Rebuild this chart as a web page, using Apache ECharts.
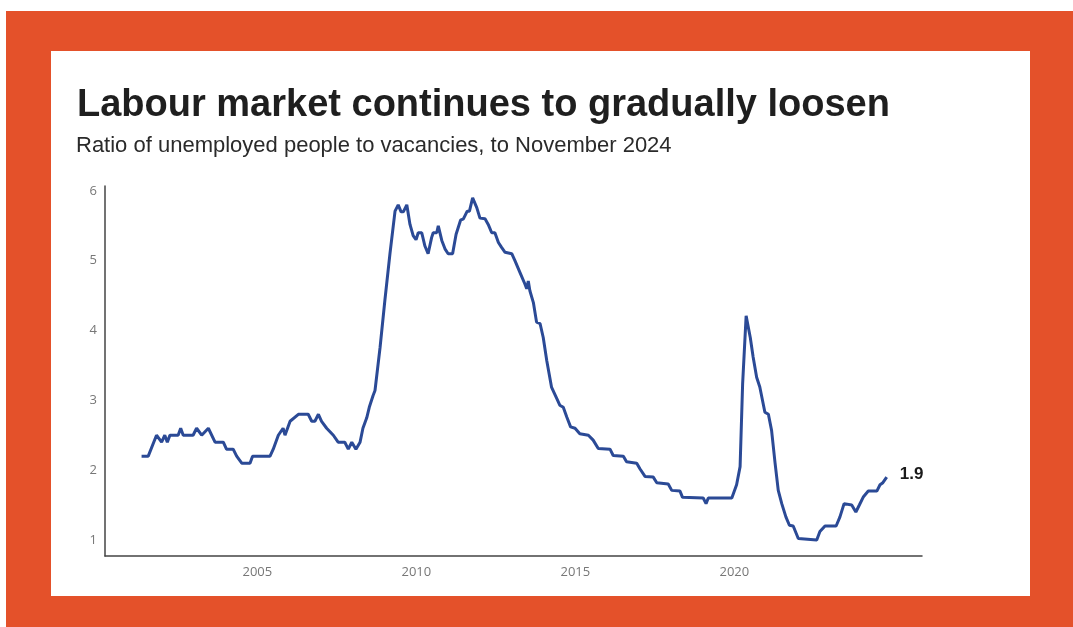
<!DOCTYPE html>
<html>
<head>
<meta charset="utf-8">
<script src="https://cdn.jsdelivr.net/npm/echarts@6/dist/echarts.min.js"></script>
<style>
  html, body { margin: 0; padding: 0; background: #ffffff; width: 1073px; height: 627px; overflow: hidden; }
  #frame { position: absolute; left: 6px; top: 11px; width: 1067px; height: 616px; background: #E4512A; }
  #panel { position: absolute; left: 51px; top: 51px; width: 979px; height: 545px; background: #ffffff; }
  #chart { position: absolute; left: 0; top: 0; width: 1073px; height: 627px; }
</style>
</head>
<body>
<div id="frame"></div>
<div id="panel"></div>
<div id="chart"></div>
<script>
// Dates (decimal years) and ratio of unemployed people to vacancies
const dates = [
  2001.36, 2001.57, 2001.83, 2001.99, 2002.09, 2002.17, 2002.25, 2002.51, 2002.59, 2002.67,
  2002.98, 2003.09, 2003.25, 2003.46, 2003.67, 2003.93, 2004.03, 2004.24, 2004.35, 2004.51,
  2004.77, 2004.85, 2005.40, 2005.50, 2005.66, 2005.81, 2005.87, 2006.03, 2006.29, 2006.60,
  2006.71, 2006.81, 2006.92, 2007.02, 2007.18, 2007.39, 2007.54, 2007.75, 2007.86, 2007.97,
  2008.10, 2008.23, 2008.32, 2008.44, 2008.52, 2008.64, 2008.70, 2008.86, 2009.01, 2009.17,
  2009.33, 2009.43, 2009.52, 2009.59, 2009.70, 2009.80, 2009.90, 2009.99, 2010.06, 2010.17,
  2010.27, 2010.37, 2010.48, 2010.53, 2010.64, 2010.69, 2010.80, 2010.90, 2011.00, 2011.14,
  2011.25, 2011.39, 2011.48, 2011.60, 2011.67, 2011.77, 2011.90, 2012.00, 2012.16, 2012.26,
  2012.37, 2012.47, 2012.58, 2012.68, 2012.79, 2013.00, 2013.10, 2013.26, 2013.41, 2013.47,
  2013.52, 2013.57, 2013.68, 2013.78, 2013.89, 2013.99, 2014.10, 2014.25, 2014.41, 2014.51,
  2014.62, 2014.73, 2014.85, 2014.99, 2015.14, 2015.41, 2015.56, 2015.72, 2016.09, 2016.19,
  2016.51, 2016.61, 2016.93, 2017.03, 2017.19, 2017.45, 2017.56, 2017.92, 2018.03, 2018.29,
  2018.37, 2019.02, 2019.11, 2019.18, 2019.92, 2020.07, 2020.18, 2020.26, 2020.37, 2020.50,
  2020.59, 2020.70, 2020.80, 2020.96, 2021.07, 2021.17, 2021.28, 2021.38, 2021.49, 2021.62,
  2021.73, 2021.85, 2022.01, 2022.59, 2022.69, 2022.85, 2023.20, 2023.32, 2023.45, 2023.69,
  2023.82, 2023.93, 2024.06, 2024.21, 2024.48, 2024.58, 2024.67, 2024.79
];
const ratio = [
  2.2, 2.2, 2.5, 2.4, 2.5, 2.4, 2.5, 2.5, 2.6, 2.5,
  2.5, 2.6, 2.5, 2.6, 2.4, 2.4, 2.3, 2.3, 2.2, 2.1,
  2.1, 2.2, 2.2, 2.3, 2.5, 2.6, 2.5, 2.7, 2.8, 2.8,
  2.7, 2.7, 2.8, 2.7, 2.6, 2.5, 2.4, 2.4, 2.3, 2.4,
  2.3, 2.4, 2.6, 2.75, 2.9, 3.07, 3.14, 3.76, 4.43, 5.1,
  5.71, 5.8, 5.7, 5.7, 5.8, 5.52, 5.36, 5.3, 5.4, 5.4,
  5.21, 5.1, 5.33, 5.4, 5.4, 5.5, 5.29, 5.17, 5.1, 5.1,
  5.38, 5.58, 5.6, 5.71, 5.71, 5.9, 5.76, 5.61, 5.6, 5.52,
  5.4, 5.4, 5.26, 5.19, 5.12, 5.1, 5.0, 4.83, 4.67, 4.6,
  4.71, 4.57, 4.4, 4.12, 4.1, 3.9, 3.57, 3.19, 3.03, 2.93,
  2.9, 2.76, 2.62, 2.6, 2.52, 2.5, 2.43, 2.31, 2.3, 2.21,
  2.2, 2.12, 2.1, 2.02, 1.91, 1.9, 1.82, 1.8, 1.71, 1.7,
  1.61, 1.6, 1.52, 1.6, 1.6, 1.79, 2.05, 3.24, 4.21, 3.9,
  3.62, 3.33, 3.19, 2.83, 2.8, 2.57, 2.1, 1.71, 1.52, 1.33,
  1.21, 1.2, 1.02, 1.0, 1.12, 1.2, 1.2, 1.33, 1.52, 1.5,
  1.4, 1.5, 1.62, 1.7, 1.7, 1.79, 1.82, 1.9
];
const xTickLabels = [2005, 2010, 2015, 2020];
const yTickLabels = [1, 2, 3, 4, 5, 6];
const titleText = 'Labour market continues to gradually loosen';
const subtitleText = 'Ratio of unemployed people to vacancies, to November 2024';
const endLabelText = '1.9';

const chart = echarts.init(document.getElementById('chart'), null, { renderer: 'canvas' });
const seriesData = dates.map((d, i) => [d, ratio[i]]);

chart.setOption({
  backgroundColor: 'transparent',
  animation: false,
  title: [
    {
      text: titleText,
      left: 72, top: 82,
      textStyle: { fontFamily: 'Liberation Sans, Arial, sans-serif', fontWeight: 'bold', fontSize: 38, color: '#1f1f1f' }
    },
    {
      text: subtitleText,
      left: 71, top: 130,
      textStyle: { fontFamily: 'Liberation Sans, Arial, sans-serif', fontWeight: 'normal', fontSize: 22, color: '#2a2a2a' }
    }
  ],
  grid: { left: 105, right: 151, top: 186, bottom: 71, containLabel: false },
  xAxis: {
    type: 'value',
    min: 2000.21,
    max: 2025.9,
    axisLine: { show: true, lineStyle: { color: '#444', width: 1.5 } },
    axisTick: { show: false },
    splitLine: { show: false },
    axisLabel: {
      customValues: xTickLabels,
      margin: 10,
      color: '#777',
      fontSize: 13,
      fontFamily: 'Open Sans, sans-serif',
      formatter: v => String(v)
    }
  },
  yAxis: {
    type: 'value',
    min: 0.77,
    max: 6.07,
    axisLine: { show: true, lineStyle: { color: '#444', width: 1.5 } },
    axisTick: { show: false },
    splitLine: { show: false },
    axisLabel: {
      customValues: yTickLabels,
      margin: 8,
      color: '#777',
      fontSize: 13,
      fontFamily: 'Open Sans, sans-serif',
      formatter: v => String(v)
    }
  },
  series: [{
    type: 'line',
    data: seriesData,
    showSymbol: false,
    symbol: 'none',
    lineStyle: { color: '#2B4A96', width: 3 },
    endLabel: {
      show: true,
      formatter: () => endLabelText,
      distance: 13,
      fontSize: 17,
      fontWeight: 'bold',
      fontFamily: 'Liberation Sans, Arial, sans-serif',
      color: '#1a1a1a',
      offset: [0, -3]
    }
  }]
});
</script>
</body>
</html>
